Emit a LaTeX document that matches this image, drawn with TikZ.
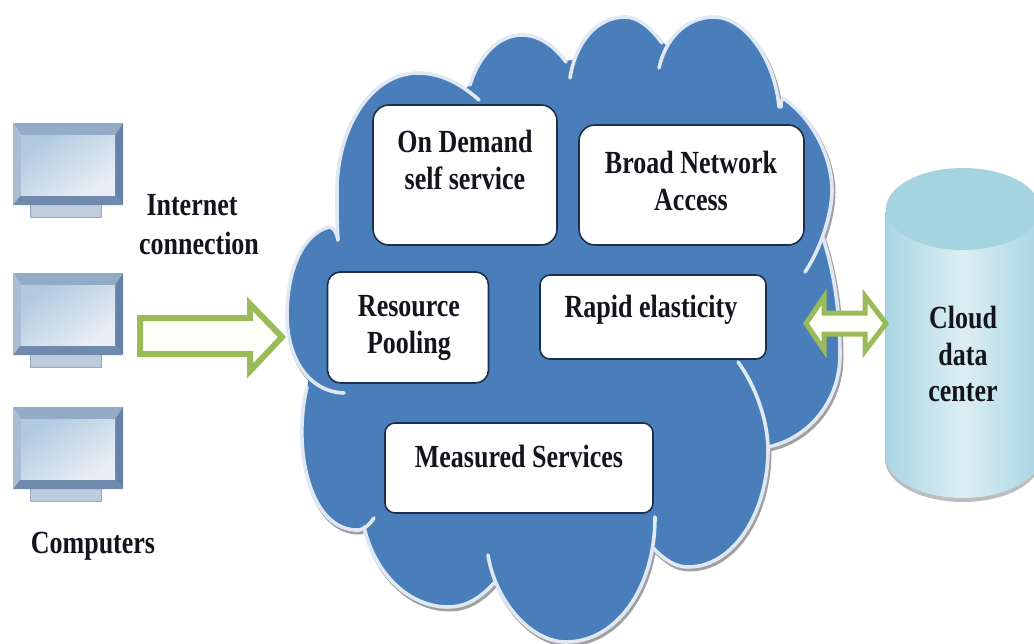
\documentclass[tikz,border=0pt]{standalone}
\usepackage{fontspec}
\setmainfont{Liberation Serif}
\definecolor{cloudblue}{HTML}{4A7EBB}
\definecolor{halo}{HTML}{DFE8F3}
\definecolor{greyedge}{HTML}{A0A0A2}
\definecolor{green1}{HTML}{9BBB59}
\definecolor{cream}{HTML}{FFFFFA}
\definecolor{boxline}{HTML}{1C2F4A}
\definecolor{ink}{HTML}{14141C}
\definecolor{bevT}{HTML}{93ABC6}
\definecolor{bevL}{HTML}{AABDD4}
\definecolor{bevR}{HTML}{6683A7}
\definecolor{bevB}{HTML}{6F8AAC}
\definecolor{scrA}{HTML}{B2C9E0}
\definecolor{scrB}{HTML}{E9EEF4}
\definecolor{cylA}{HTML}{A9D5E2}
\definecolor{cylB}{HTML}{DCEEF3}
\definecolor{cylTop}{HTML}{A6D3E0}
\tikzset{
  x=1pt,y=-1pt,
  featbox/.style={draw=boxline,line width=1.6pt,fill=white,rounded corners=16pt},
  lbl/.style={font=\fontsize{26}{29.5}\selectfont\bfseries,text=ink,align=center,inner sep=0pt,transform shape,yscale=1.24},
  hollow/.style={draw=green1,line width=6pt,fill=cream,miter limit=10,line join=miter},
}
\newcommand{\monitor}[1]{%
  \begin{scope}[yshift=-#1pt]
    \fill[bevT!60!white] (30,205) rectangle (101,217);
    \draw[bevT,line width=0.8pt] (30,205) -- (30,217) -- (101,217) -- (101,205);
    \fill[bevT] (13,123) -- (123,123) -- (115,135) -- (21,135) -- cycle;
    \fill[bevL] (13,123) -- (21,135) -- (21,195) -- (13,205) -- cycle;
    \fill[bevR] (123,123) -- (115,135) -- (115,195) -- (123,205) -- cycle;
    \fill[bevB] (13,205) -- (21,195) -- (115,195) -- (123,205) -- cycle;
    \shade[left color=scrA,right color=scrB,shading angle=35] (21,135) rectangle (115,195);
  \end{scope}}
\def\alllobes{%
  \lobe{(338,240) .. controls (336,231) and (333,227) .. (329,227) .. controls (300,235) and (287,275) .. (287,315) .. controls (287,360) and (310,392) .. (344,393)}%
  \lobe{(307,387) .. controls (292,450) and (310,532) .. (359,530) .. controls (365,529) and (370,524) .. (374,518)}%
  \lobe{(364,527) .. controls (375,575) and (410,607) .. (448,607) .. controls (468,607) and (482,596) .. (494,583)}%
  \lobe{(488,555) .. controls (495,600) and (530,642) .. (566,642) .. controls (615,642) and (655,590) .. (655,517)}%
  \lobe{(653,548) .. controls (665,560) and (675,567) .. (688,567) .. controls (735,567) and (768,510) .. (768,450) .. controls (768,420) and (755,385) .. (738,362)}%
  \lobe{(768,447) .. controls (810,438) and (840,400) .. (840,355) .. controls (840,315) and (835,275) .. (823,238)}%
  \lobe{(781,107) .. controls (781,103) and (781,100) .. (783,98) .. controls (815,120) and (832,160) .. (832,190) .. controls (832,215) and (820,250) .. (805,272)}%
  \lobe{(779,107) .. controls (775,60) and (745,17) .. (714,17) .. controls (685,17) and (665,40) .. (659,68)}%
  \lobe{(662,43) .. controls (650,27) and (638,17) .. (625,17) .. controls (595,17) and (575,45) .. (570,78)}%
  \lobe{(566,62) .. controls (555,47) and (540,35) .. (522,35) .. controls (497,35) and (478,58) .. (470,85)}%
  \lobe{(479,100) .. controls (460,83) and (440,73) .. (418,73) .. controls (370,73) and (337,130) .. (337,190) .. controls (337,210) and (337,225) .. (338,240)}%
}
\begin{document}
\begin{tikzpicture}
\path[use as bounding box,fill=white] (0,0) rectangle (1034,643);

% monitors
\monitor{0}
\monitor{150}
\monitor{284}

% cylinder
\path[fill=greyedge!70!white] (885,212) -- (885,459) arc[start angle=180,end angle=0,x radius=78,y radius=43] -- (1041,212) -- cycle;
\shade[left color=cylA,right color=cylA,middle color=cylB] (886,210) -- (886,457) arc[start angle=180,end angle=0,x radius=77,y radius=41] -- (1040,210) -- cycle;
\fill[cylTop] (963,209) ellipse[x radius=77,y radius=41];

% cloud
\def\lobe#1{\draw[greyedge,line width=4pt,line cap=round,shift={(1.5,2.5)}] #1;}
\alllobes
\def\lobe#1{\fill[cloudblue] #1 -- cycle;}
\alllobes
\fill[cloudblue] (338,240) -- (470,84) -- (566,61) -- (662,43) -- (779,100) -- (825,243) -- (768,450) -- (653,548) -- (494,585) -- (362,528) -- (307,387) -- cycle;
\def\lobe#1{\draw[halo,line width=3.6pt,line cap=round] #1;}
\alllobes

% feature boxes
\node[featbox,minimum width=184pt,minimum height=140pt] (demand) at (465,175) {};
\node[featbox,minimum width=225pt,minimum height=120pt] (network) at (691.5,185) {};
\node[featbox,minimum width=161pt,minimum height=111pt,rounded corners=13pt] (pooling) at (408,327.5) {};
\node[featbox,minimum width=226pt,minimum height=84pt,rounded corners=10pt] (rapid) at (653,317) {};
\node[featbox,minimum width=268pt,minimum height=90pt,rounded corners=10pt] (measured) at (519,468) {};

% block arrows
\draw[hollow] (140,318) -- (250,318) -- (250,304) -- (282,337) -- (250,371) -- (250,354) -- (140,354) -- cycle;
\draw[hollow,line width=5pt] (806,323.5) -- (824,297) -- (824,313) -- (865,313) -- (865,296) -- (886,323.5) -- (865,351) -- (865,334) -- (824,334) -- (824,350) -- cycle;

% labels
\node[lbl] (t1) at (465,160) {On Demand\\self service};
\node[lbl] (t2) at (691,181) {Broad Network\\Access};
\node[lbl] (t3) at (409,328) {Resource\\Pooling};
\node[lbl] (t4) at (651,310) {Rapid elasticity};
\node[lbl] (t5) at (519,457) {Measured Services};
\node[lbl] (t6a) at (192,205) {Internet};
\node[lbl] (t6b) at (199,243) {connection};
\node[lbl] (t7) at (93,546) {Computers};
\node[lbl] (t8) at (963,354) {Cloud\\data\\center};
\end{tikzpicture}
\end{document}
